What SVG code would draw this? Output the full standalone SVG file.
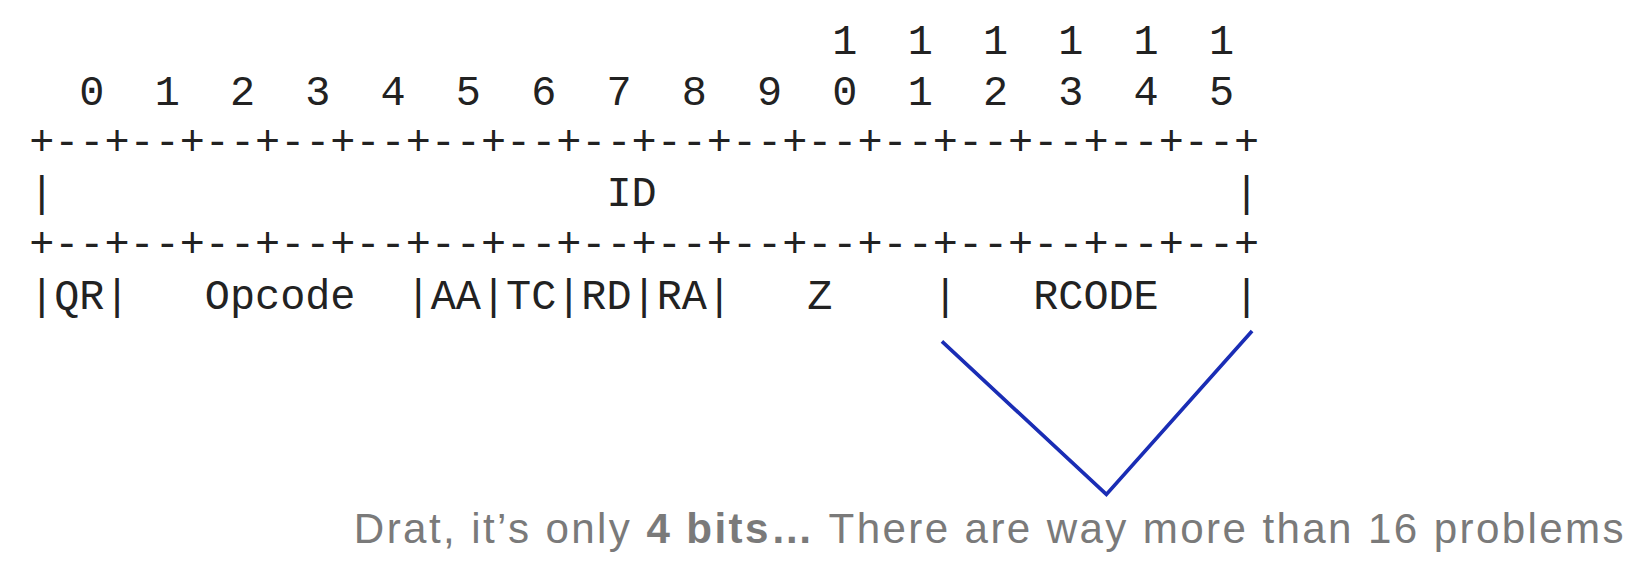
<svg xmlns="http://www.w3.org/2000/svg" width="1632" height="562" viewBox="0 0 1632 562">
<style>
.m{font-family:"Liberation Mono","DejaVu Sans Mono",monospace;font-size:40.2px;fill:#222;white-space:pre}
.c{font-family:"Liberation Sans",Arial,sans-serif;font-size:40.5px;fill:#7a7a7a}
</style>
<rect width="1632" height="562" fill="#fff"/>
<g transform="scale(1.0408)">
<g id="header">
<text class="m" x="28" y="52" xml:space="preserve">                                1  1  1  1  1  1</text>
<text class="m" x="28" y="101" xml:space="preserve">  0  1  2  3  4  5  6  7  8  9  0  1  2  3  4  5</text>
<text class="m" x="28" y="149" xml:space="preserve">+--+--+--+--+--+--+--+--+--+--+--+--+--+--+--+--+</text>
<text class="m" x="28" y="198" xml:space="preserve">|                      ID                       |</text>
<text class="m" x="28" y="247" xml:space="preserve">+--+--+--+--+--+--+--+--+--+--+--+--+--+--+--+--+</text>
<text class="m" x="28" y="297" xml:space="preserve">|QR|   Opcode  |AA|TC|RD|RA|   Z    |   RCODE   |</text>
</g>
<g id="connectors">
<polyline points="905,328 1063,475 1203,318" fill="none" stroke="#1a2db5" stroke-width="3.5"/>
</g>
<g id="caption">
<text class="c" x="340" y="522" textLength="1220" lengthAdjust="spacing">Drat, it’s only <tspan font-weight="bold">4 bits…</tspan>  There are way more than 16 problems</text>
</g>
</g>
</svg>
